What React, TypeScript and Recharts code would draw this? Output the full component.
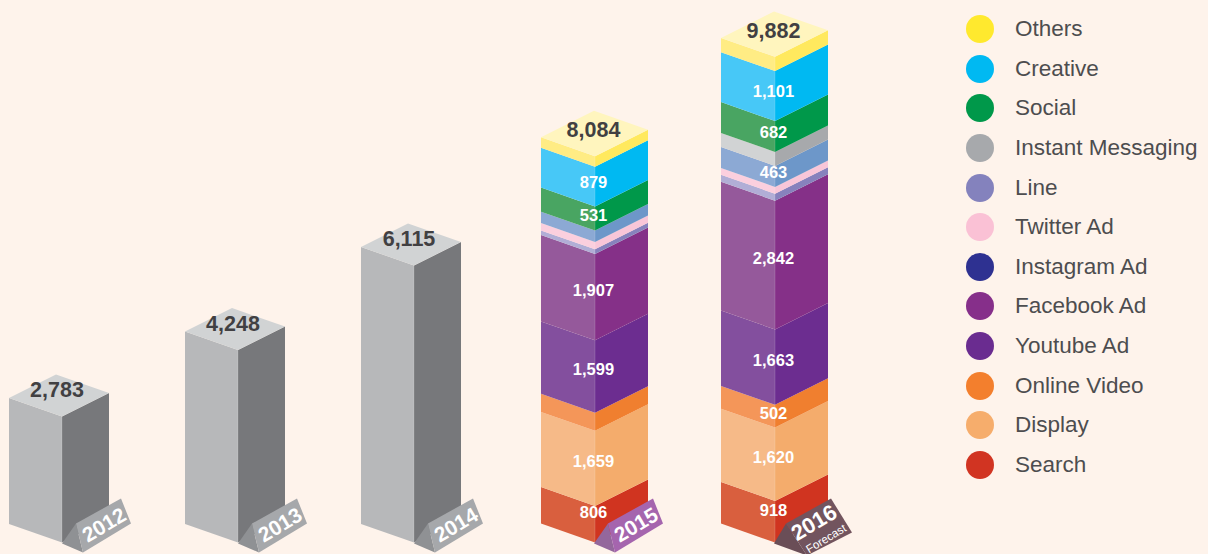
import { BarChart, Bar, XAxis, YAxis, Legend } from "recharts";

const years = ["2012", "2013", "2014", "2015", "2016"];
const totals = [2783, 4248, 6115, 8084, 9882];

// years without a breakdown are drawn as one grey block
const plain = [2783, 4248, 6115, null, null];
const search = [null, null, null, 806, 918];
const display = [null, null, null, 1659, 1620];
const onlineVideo = [null, null, null, 400, 502];
const youtubeAd = [null, null, null, 1599, 1663];
const facebookAd = [null, null, null, 1907, 2842];
const instagramAd = [null, null, null, 100, 155];
const twitterAd = [null, null, null, 165, 150];
const line = [null, null, null, 250, 463];
const instantMessaging = [null, null, null, null, 310];
const social = [null, null, null, 531, 682];
const creative = [null, null, null, 879, 1101];
const others = [null, null, null, 230, 316];

const data = years.map((year, i) => ({
  year,
  plain: plain[i],
  search: search[i],
  display: display[i],
  onlineVideo: onlineVideo[i],
  youtubeAd: youtubeAd[i],
  facebookAd: facebookAd[i],
  instagramAd: instagramAd[i],
  twitterAd: twitterAd[i],
  line: line[i],
  instantMessaging: instantMessaging[i],
  social: social[i],
  creative: creative[i],
  others: others[i],
}));

const seriesList = [
  { key: "search", name: "Search", legend: "#D13422", left: "#D95F3E", right: "#D03420", labelDy: -12 },
  { key: "display", name: "Display", legend: "#F6AD6C", left: "#F6BA88", right: "#F4AC6C", labelDy: -7 },
  { key: "onlineVideo", name: "Online Video", legend: "#F37F2D", left: "#F49659", right: "#F07F2F", labelDy: -3 },
  { key: "youtubeAd", name: "Youtube Ad", legend: "#6A2C90", left: "#834F9E", right: "#6C2D90", labelDy: -7 },
  { key: "facebookAd", name: "Facebook Ad", legend: "#862F8A", left: "#95599B", right: "#853088", labelDy: -7 },
  { key: "instagramAd", name: "Instagram Ad", legend: "#2E3191", left: "#B1AED6", right: "#8782BD", labelDy: -4 },
  { key: "twitterAd", name: "Twitter Ad", legend: "#FAC1D5", left: "#FBCFDE", right: "#F9C6D8", labelDy: -4 },
  { key: "line", name: "Line", legend: "#8482BD", left: "#8CA9D4", right: "#6D97C9", labelDy: -4 },
  { key: "instantMessaging", name: "Instant Messaging", legend: "#A7A9AC", left: "#D1D3D4", right: "#A7A9AC", labelDy: -4 },
  { key: "social", name: "Social", legend: "#00984A", left: "#49A562", right: "#00984A", labelDy: -4 },
  { key: "creative", name: "Creative", legend: "#00B9F2", left: "#47C8F7", right: "#00B9F2", labelDy: -5 },
  { key: "others", name: "Others", legend: "#FFE92E", left: "#FFEC84", right: "#FFE95E", labelDy: -4 },
];

const FONT = "'Liberation Sans', Arial, sans-serif";
const SMALLEST_PRINTED = 450;
const LEFT_SLOPE = 0.35;
const RIGHT_SLOPE = 0.5;
// columns are not quite evenly spaced in the source
const columnShift = [0, -2, -4, -2, 0];

function Block(props: any) {
  const { x, y, height, index, payload, spec, roof, leftFace, rightFace } = props;
  const value = payload[spec.key];
  if (!value) return null;
  const l = x + columnShift[index];
  const c = l + leftFace;
  const r = c + rightFace;
  const rl = leftFace * LEFT_SLOPE;
  const rr = rightFace * RIGHT_SLOPE;
  const b = y + height;
  return (
    <g>
      <polygon points={`${l},${y - rl} ${c},${y} ${c},${b} ${l},${b - rl}`} fill={spec.left} />
      <polygon points={`${c},${y} ${r},${y - rr} ${r},${b - rr} ${c},${b}`} fill={spec.right} />
      <line x1={c} y1={y} x2={c} y2={b} stroke="#fff" strokeOpacity={0.15} />
      {spec.key !== "plain" && value >= SMALLEST_PRINTED && (
        <text
          x={c - 1.5}
          y={y + height / 2 + spec.labelDy}
          fill="#fff"
          fontFamily={FONT}
          fontWeight="bold"
          fontSize={16.5}
          textAnchor="middle"
          dominantBaseline="central"
        >
          {value.toLocaleString("en-US")}
        </text>
      )}
      {roof && (
        <>
          <polygon
            points={`${l},${y - rl} ${c},${y} ${r},${y - rr} ${l + r - c},${y - rl - rr}`}
            fill={roof}
          />
          <text
            x={c - (rightFace < 50 ? 5 : 1.5)}
            y={y - 26}
            fill="#414042"
            fontFamily={FONT}
            fontWeight="bold"
            fontSize={21.5}
            textAnchor="middle"
            dominantBaseline="central"
          >
            {totals[index].toLocaleString("en-US")}
          </text>
        </>
      )}
    </g>
  );
}

const tagColors = [
  { face: "#A6A8AB", side: "#8F9194" },
  { face: "#A6A8AB", side: "#8F9194" },
  { face: "#A6A8AB", side: "#8F9194" },
  { face: "#A565AE", side: "#94679C" },
  { face: "#72545E", side: "#6A4E57" },
];

function YearTag(props: any) {
  const { x, index, payload } = props;
  const fx = x + columnShift[index];
  const fy = 542.5;
  const big = index === 4;
  const colors = tagColors[index];
  const face = big
    ? [[12, -19], [57, -44], [78, -10], [33, 13]]
    : [[14, -19], [59, -44], [69, -19], [21, 10]];
  const sideEnd = big ? [33, 13] : [21, 10];
  const tx = fx + (big ? 40 : 42);
  const ty = fy + (big ? -20 : -18);
  return (
    <g>
      <polygon
        points={`${fx},${fy + 1} ${fx + face[0][0]},${fy + face[0][1]} ${fx + sideEnd[0]},${fy + sideEnd[1]}`}
        fill={colors.side}
      />
      <polygon
        points={face.map((p) => `${fx + p[0]},${fy + p[1]}`).join(" ")}
        fill={colors.face}
      />
      <text
        x={tx}
        y={ty}
        transform={`rotate(-31 ${tx} ${ty})`}
        fill="#fff"
        fontFamily={FONT}
        fontWeight="bold"
        fontSize={big ? 22 : 21}
        textAnchor="middle"
        dominantBaseline="central"
      >
        {payload.value}
      </text>
      {big && (
        <text
          x={fx + 52}
          y={fy - 4}
          transform={`rotate(-31 ${fx + 52} ${fy - 4})`}
          fill="#fff"
          fontFamily={FONT}
          fontSize={11.5}
          textAnchor="middle"
          dominantBaseline="central"
        >
          Forecast
        </text>
      )}
    </g>
  );
}

function LegendList() {
  const rows = [...seriesList].reverse();
  return (
    <div style={{ width: 250 }}>
      {rows.map((s) => (
        <div
          key={s.key}
          style={{ height: 39.6, display: "flex", alignItems: "center", fontFamily: FONT, fontSize: 22.5, color: "#4D4D4F", whiteSpace: "nowrap" }}
        >
          <span style={{ width: 28, height: 28, borderRadius: 14, background: s.legend, marginRight: 21, flex: "none" }} />
          {s.name}
        </div>
      ))}
    </div>
  );
}

export default function App() {
  return (
    <div style={{ position: "absolute", left: 0, top: 0, width: 1208, height: 554, background: "#FEF3EB", overflow: "hidden" }}>
      <BarChart
        width={1208}
        height={554}
        data={data}
        margin={{ top: 44.2, right: 345, bottom: 10.5, left: -27 }}
        barSize={107}
      >
        <YAxis hide type="number" domain={[0, 11000]} />
        <Bar
          dataKey="plain"
          stackId="a"
          legendType="none"
          isAnimationActive={false}
          shape={(p: any) => (
            <Block {...p} spec={{ key: "plain", left: "#B7B8BA", right: "#77787B" }} roof="#D1D3D4" leftFace={53} rightFace={47} />
          )}
        />
        {seriesList.map((s) => (
          <Bar
            key={s.key}
            dataKey={s.key}
            name={s.name}
            stackId="a"
            fill={s.legend}
            isAnimationActive={false}
            shape={(p: any) => (
              <Block {...p} spec={s} roof={s.key === "others" ? "#FFF5BE" : undefined} leftFace={54} rightFace={53} />
            )}
          />
        ))}
        <XAxis
          dataKey="year"
          interval={0}
          height={1}
          axisLine={false}
          tickLine={false}
          tick={<YearTag />}
        />
        <Legend
          layout="vertical"
          align="center"
          verticalAlign="middle"
          content={<LegendList />}
          wrapperStyle={{ left: 966, top: 9.5, width: 250 }}
        />
      </BarChart>
    </div>
  );
}
